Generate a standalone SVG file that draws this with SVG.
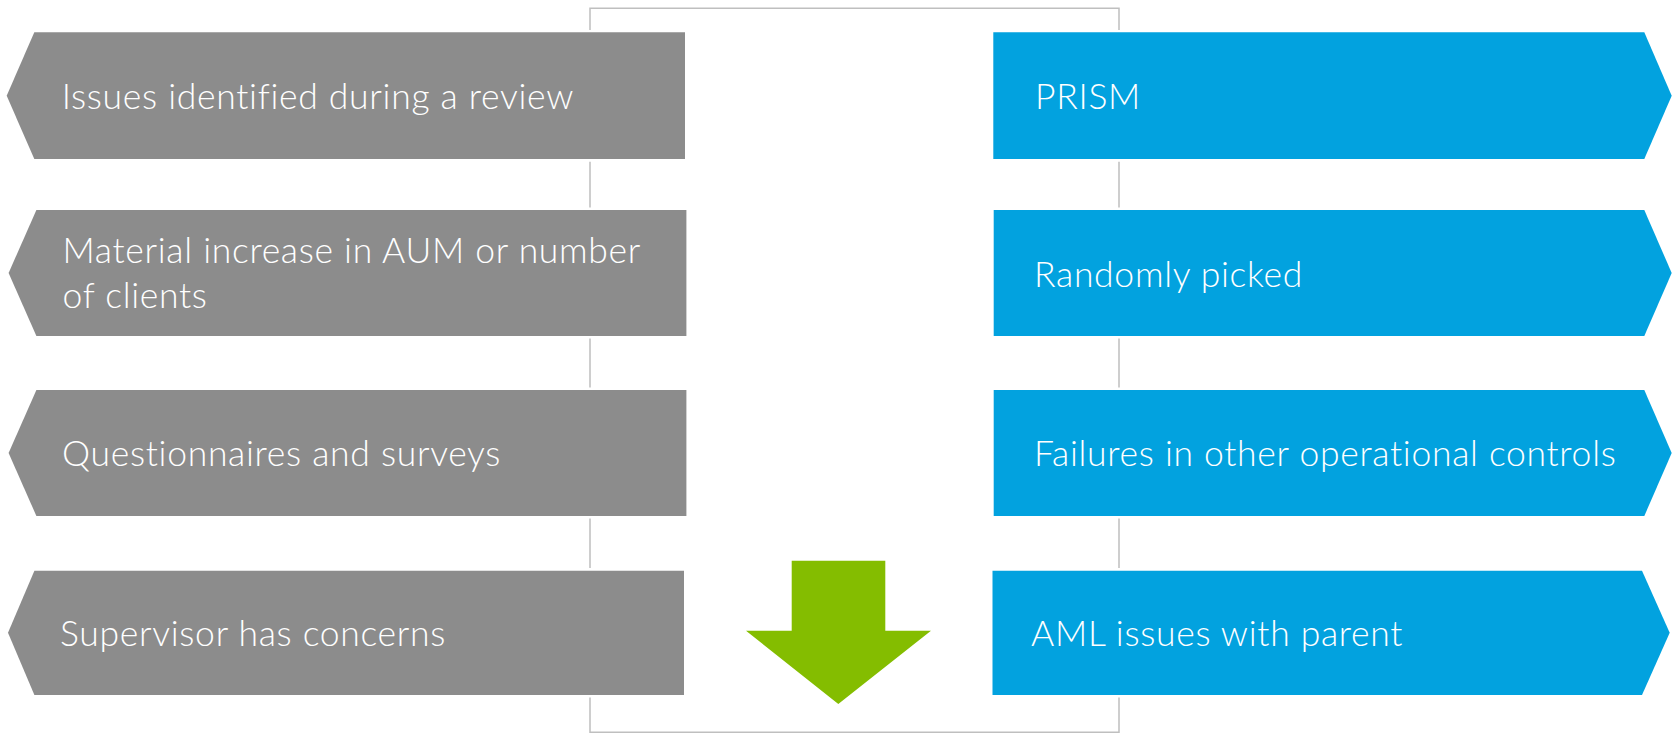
<svg xmlns="http://www.w3.org/2000/svg" width="1679" height="734" viewBox="0 0 1679 734">
  <style>
    .gray { fill: #8C8C8C; }
    .blue { fill: #02A2DF; }
    .frame { fill: none; stroke: #BFBFBF; stroke-width: 1.5; }
    .lbl { font-family: Lato, "Open Sans", "Liberation Sans", sans-serif; font-weight: 300; font-size: 35.5px; letter-spacing: 0.7px; font-variant-ligatures: none; fill: #FFFFFF; }
  </style>
  <rect x="0" y="0" width="1679" height="734" fill="#FFFFFF"/>
  <g id="connectors">
    <path class="frame" d="M590 30 V8.3 H1119 V30 M590 161.7 V207.5 M590 338.5 V387.5 M590 518.5 V568 M590 697.5 V732.3 H1119 V697.5 M1119 161.7 V207.5 M1119 338.5 V387.5 M1119 518.5 V568"/>
  </g>
  <g id="left-1">
    <polygon class="gray" points="34.3,32.3 685,32.3 685,159 34.3,159 6.7,95.7"/>
    <text class="lbl" x="61.7" y="109">Issues identified during a review</text>
  </g>
  <g id="left-2">
    <polygon class="gray" points="36.4,210 686.4,210 686.4,336 36.4,336 8.6,273"/>
    <text class="lbl" x="62.5" y="263.3">Material increase in AUM or number</text>
    <text class="lbl" x="62.5" y="308">of clients</text>
  </g>
  <g id="left-3">
    <polygon class="gray" points="36.4,390 686.4,390 686.4,516 36.4,516 8.6,453"/>
    <text class="lbl" x="62" y="466.3">Questionnaires and surveys</text>
  </g>
  <g id="left-4">
    <polygon class="gray" points="34.4,570.7 684,570.7 684,695 34.4,695 8,632.8"/>
    <text class="lbl" x="60" y="645.7">Supervisor has concerns</text>
  </g>
  <g id="right-1">
    <polygon class="blue" points="993.3,32.3 1644.3,32.3 1671.7,95.7 1644.3,159 993.3,159"/>
    <text class="lbl" x="1035" y="109.3">PRISM</text>
  </g>
  <g id="right-2">
    <polygon class="blue" points="993.7,210 1644.3,210 1671.7,273 1644.3,336 993.7,336"/>
    <text class="lbl" x="1034" y="286.5">Randomly picked</text>
  </g>
  <g id="right-3">
    <polygon class="blue" points="993.7,390 1644.3,390 1671.7,453 1644.3,516 993.7,516"/>
    <text class="lbl" x="1034" y="466.3">Failures in other operational controls</text>
  </g>
  <g id="right-4">
    <polygon class="blue" points="992.5,570.7 1642,570.7 1669.7,632.8 1642,695 992.5,695"/>
    <text class="lbl" x="1031" y="645.7">AML issues with parent</text>
  </g>
  <g id="down-arrow">
    <polygon fill="#84BD00" points="791.7,560.7 885.3,560.7 885.3,630.7 931,630.7 838.3,704 746,630.7 791.7,630.7"/>
  </g>
</svg>
